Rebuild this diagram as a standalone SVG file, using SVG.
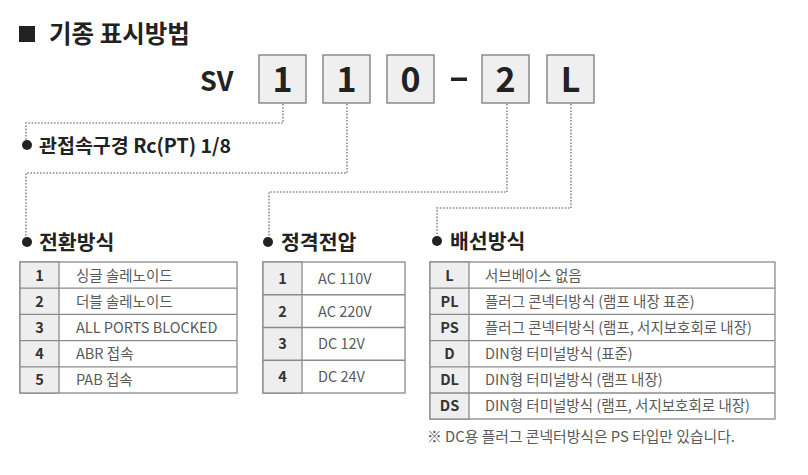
<svg xmlns="http://www.w3.org/2000/svg" width="808" height="475" viewBox="0 0 808 475">
<style>
text{font-family:"Noto Sans CJK KR","Noto Sans",sans-serif;}
.title{font-size:24.5px;font-weight:700;fill:#222;}
.code{font-size:34px;font-weight:700;fill:#222;text-anchor:middle;}
.sv{font-size:27px;font-weight:700;fill:#222;}
.box{fill:#efefef;stroke:#7a7a7a;stroke-width:1.3;}
.dot{fill:none;stroke:#8a8a8a;stroke-width:1.6;stroke-dasharray:1.6 1.6;}
.bullet{fill:#222;}
.head{font-size:20.5px;font-weight:700;fill:#222;}
.port{font-size:19.5px;font-weight:700;fill:#222;}
.tbl{fill:#fff;stroke:#8a8a8a;stroke-width:1.3;}
.col{fill:#eeeeee;stroke:#8a8a8a;stroke-width:1.3;}
.ln{stroke:#8a8a8a;stroke-width:1.3;}
.key{font-size:14.5px;font-weight:700;fill:#333;text-anchor:middle;}
.val{font-size:14.5px;font-weight:400;fill:#5a5a5a;}
.note{font-size:14.8px;font-weight:400;fill:#5a5a5a;}
</style>
<rect width="808" height="475" fill="#fff"/>

<g id="title">
<rect x="19" y="26" width="16" height="16" fill="#222"/>
<text class="title" x="49" y="42.5">기종 표시방법</text>
</g>

<g id="code">
<text class="sv" x="200" y="91">SV</text>
<g id="box1"><rect class="box" x="259" y="55" width="47" height="48"/><text class="code" x="282.5" y="92">1</text></g>
<g id="box2"><rect class="box" x="323" y="55" width="47" height="48"/><text class="code" x="346.5" y="92">1</text></g>
<g id="box3"><rect class="box" x="387" y="55" width="47" height="48"/><text class="code" x="410.5" y="92">0</text></g>
<rect x="451" y="77.5" width="16" height="3.5" fill="#222"/>
<g id="box4"><rect class="box" x="482" y="55" width="47" height="48"/><text class="code" x="505.5" y="92">2</text></g>
<g id="box5"><rect class="box" x="547" y="55" width="47" height="48"/><text class="code" x="570.5" y="92">L</text></g>
</g>

<g id="connectors">
<path class="dot" d="M283 104 V123 H26 V140"/>
<path class="dot" d="M347 104 V173 H26 V236"/>
<path class="dot" d="M507 104 V192 H269 V236"/>
<path class="dot" d="M571 104 V208 H437 V235"/>
</g>

<g id="port">
<circle class="bullet" cx="27" cy="145" r="5"/>
<text class="port" x="39" y="152.5">관접속구경 Rc(PT) 1/8</text>
</g>

<g id="switching">
<circle class="bullet" cx="27" cy="242" r="5"/>
<text class="head" x="39" y="249.5">전환방식</text>
<rect class="tbl" x="20" y="262" width="217" height="131"/>
<rect class="col" x="20" y="262" width="39" height="131"/>
<line class="ln" x1="20" y1="288.2" x2="237" y2="288.2"/>
<line class="ln" x1="20" y1="314.4" x2="237" y2="314.4"/>
<line class="ln" x1="20" y1="340.6" x2="237" y2="340.6"/>
<line class="ln" x1="20" y1="366.8" x2="237" y2="366.8"/>
<text class="key" x="39.5" y="280.5">1</text>
<text class="key" x="39.5" y="306.5">2</text>
<text class="key" x="39.5" y="332.5">3</text>
<text class="key" x="39.5" y="358.5">4</text>
<text class="key" x="39.5" y="385">5</text>
<text class="val" x="76" y="280.5">싱글 솔레노이드</text>
<text class="val" x="76" y="306.5">더블 솔레노이드</text>
<text class="val" x="76" y="332.5">ALL PORTS BLOCKED</text>
<text class="val" x="76" y="358.5">ABR 접속</text>
<text class="val" x="76" y="385">PAB 접속</text>
</g>

<g id="voltage">
<circle class="bullet" cx="268" cy="242" r="5"/>
<text class="head" x="281" y="249.5">정격전압</text>
<rect class="tbl" x="263" y="262" width="142" height="131"/>
<rect class="col" x="263" y="262" width="39" height="131"/>
<line class="ln" x1="263" y1="294.75" x2="405" y2="294.75"/>
<line class="ln" x1="263" y1="327.5" x2="405" y2="327.5"/>
<line class="ln" x1="263" y1="360.25" x2="405" y2="360.25"/>
<text class="key" x="282.5" y="283.5">1</text>
<text class="key" x="282.5" y="316.5">2</text>
<text class="key" x="282.5" y="349">3</text>
<text class="key" x="282.5" y="381.5">4</text>
<text class="val" x="318" y="283.5">AC 110V</text>
<text class="val" x="318" y="316.5">AC 220V</text>
<text class="val" x="318" y="349">DC 12V</text>
<text class="val" x="318" y="381.5">DC 24V</text>
</g>

<g id="wiring">
<circle class="bullet" cx="437" cy="241" r="5"/>
<text class="head" x="450" y="248.5">배선방식</text>
<rect class="tbl" x="430" y="262" width="345" height="157"/>
<rect class="col" x="430" y="262" width="39" height="157"/>
<line class="ln" x1="430" y1="288.2" x2="775" y2="288.2"/>
<line class="ln" x1="430" y1="314.4" x2="775" y2="314.4"/>
<line class="ln" x1="430" y1="340.6" x2="775" y2="340.6"/>
<line class="ln" x1="430" y1="366.8" x2="775" y2="366.8"/>
<line class="ln" x1="430" y1="393" x2="775" y2="393"/>
<text class="key" x="449.5" y="280.5">L</text>
<text class="key" x="449.5" y="306.5">PL</text>
<text class="key" x="449.5" y="332.5">PS</text>
<text class="key" x="449.5" y="358.5">D</text>
<text class="key" x="449.5" y="385">DL</text>
<text class="key" x="449.5" y="411">DS</text>
<text class="val" x="485" y="280.5">서브베이스 없음</text>
<text class="val" x="485" y="306.5">플러그 콘넥터방식 (램프 내장 표준)</text>
<text class="val" x="485" y="332.5">플러그 콘넥터방식 (램프, 서지보호회로 내장)</text>
<text class="val" x="485" y="358.5">DIN형 터미널방식 (표준)</text>
<text class="val" x="485" y="385">DIN형 터미널방식 (램프 내장)</text>
<text class="val" x="485" y="411">DIN형 터미널방식 (램프, 서지보호회로 내장)</text>
<text class="note" x="427" y="441.5">※ DC용 플러그 콘넥터방식은 PS 타입만 있습니다.</text>
</g>
</svg>
